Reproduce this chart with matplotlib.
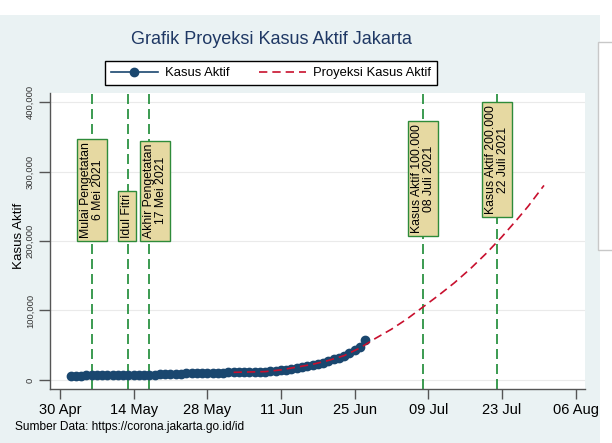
import pandas as pd
import matplotlib
matplotlib.use('Agg')
import matplotlib.pyplot as plt
import matplotlib.dates as mdates
from matplotlib.patches import Rectangle
from matplotlib.lines import Line2D

plt.rcParams['font.family'] = ['Liberation Sans', 'DejaVu Sans']

# observed active cases, daily from 2 May 2021
obs_start = '2021-05-02'
obs_values = [6200, 6300, 6400, 6500, 6600, 6700, 6700,
              6800, 6900, 7000, 7100, 7200, 7300, 7200,
              7300, 7500, 7700, 7900, 8200, 8500, 8800,
              9100, 9400, 9700, 10000, 10200, 10400, 10500,
              10600, 10700, 10800, 10900, 11000, 11100, 11200,
              11400, 11700, 12100, 12600, 13200, 14000, 15000,
              16100, 17300, 18600, 20000, 21500, 23200, 25100,
              27200, 29500, 32000, 35000, 38500, 42500, 47500,
              57000]

# projection
proj_dates = ['2021-06-02', '2021-06-05', '2021-06-08', '2021-06-11', '2021-06-14',
              '2021-06-17', '2021-06-20', '2021-06-23', '2021-06-26', '2021-06-29',
              '2021-07-02', '2021-07-05', '2021-07-08', '2021-07-11', '2021-07-14',
              '2021-07-17', '2021-07-20', '2021-07-23', '2021-07-26', '2021-07-28',
              '2021-07-31']
proj_values = [11000, 11500, 12000, 14500, 18500,
               22500, 28000, 35000, 46000, 60000,
               73000, 88000, 105000, 122000, 140000,
               160000, 182000, 206000, 232000, 250000,
               280000]

# event markers (line date, label position, text, bottom of box)
event_dates = ['2021-05-06', '2021-05-13', '2021-05-17', '2021-07-08', '2021-07-22']
label_dates = ['2021-05-06', '2021-05-12 18:00', '2021-05-18', '2021-07-08', '2021-07-22']
event_labels = ['Mulai Pengetatan\n6 Mei 2021', 'Idul Fitri',
                'Akhir Pengetatan\n17 Mei 2021',
                'Kasus Aktif 100.000\n08 Juli 2021',
                'Kasus Aktif 200.000\n22 Juli 2021']
label_base = [200000, 200000, 200000, 207000, 234000]

tick_dates = ['2021-04-30', '2021-05-14', '2021-05-28', '2021-06-11',
              '2021-06-25', '2021-07-09', '2021-07-23', '2021-08-06']
yticks = [0, 100000, 200000, 300000, 400000]

obs_dates = pd.date_range(obs_start, periods=len(obs_values), freq='D')

fig = plt.figure(figsize=(6.12, 4.43), dpi=100)
fig.patch.set_facecolor('white')
fig.patches.append(Rectangle((0, 0), 600 / 612, 428 / 443, transform=fig.transFigure,
                             facecolor='#EAF2F3', edgecolor='none', zorder=-10))
fig.patches.append(Rectangle((598 / 612, 193 / 443), 20 / 612, 208 / 443,
                             transform=fig.transFigure, facecolor='white',
                             edgecolor='#C8C8C8', lw=1, zorder=-5))

ax = fig.add_axes([50 / 612, 54 / 443, 535 / 612, 296 / 443])
ax.set_facecolor('white')

ax.set_yticks(yticks)
ax.yaxis.grid(True, color='#EAEAEA', lw=0.8)
ax.set_axisbelow(True)

for d in event_dates:
    ax.axvline(pd.Timestamp(d), color='#1A8A34', ls=(0, (6, 3)), lw=1.2, zorder=2)

ax.plot(obs_dates, obs_values, color='#1A476F', marker='o', ms=6, lw=1.2, zorder=3)
ax.plot(pd.to_datetime(proj_dates), proj_values, color='#C8102E', ls=(0, (5, 3)),
        lw=1.2, zorder=4)

for d, lab, yb in zip(label_dates, event_labels, label_base):
    ax.annotate(lab, xy=(pd.Timestamp(d), yb), xytext=(0, 3), textcoords='offset pixels',
                rotation=90, ha='center', va='bottom', ma='center',
                fontsize=8.8, linespacing=1.0, zorder=5,
                bbox=dict(boxstyle='square,pad=0.25', fc='#E6D9A2', ec='#2E8B3A', lw=1))

x0 = mdates.date2num(pd.Timestamp('2021-04-30')) - 1.9
x1 = mdates.date2num(pd.Timestamp('2021-04-30')) + 99.8
ax.set_xlim(x0, x1)
ax.set_ylim(-13000, 413000)

ax.set_xticks(pd.to_datetime(tick_dates))
ax.xaxis.set_major_formatter(mdates.DateFormatter('%d %b'))
ax.set_yticklabels(['{:,}'.format(v) for v in yticks], rotation=90, va='center')

for s in ['top', 'right']:
    ax.spines[s].set_visible(False)
for s in ['left', 'bottom']:
    ax.spines[s].set_color('#555555')
    ax.spines[s].set_linewidth(1.0)

ax.tick_params(axis='x', length=7, width=1, color='#555555', labelsize=10.5, pad=3)
ax.tick_params(axis='y', length=8, width=1, color='#555555', labelsize=6.8,
               pad=3, labelcolor='#333333')

fig.text(19 / 612, 1 - 236 / 443, 'Kasus Aktif', rotation=90, ha='center', va='center',
         fontsize=9.6)

fig.text(271.5 / 612, 1 - 40 / 443, 'Grafik Proyeksi Kasus Aktif Jakarta',
         ha='center', va='center', fontsize=13, color='#1F3864')

handles = [Line2D([], [], color='#1A476F', marker='o', ms=6, lw=1.2),
           Line2D([], [], color='#C8102E', ls=(0, (5, 3)), lw=1.2)]
leg = fig.legend(handles, ['Kasus Aktif', 'Proyeksi Kasus Aktif'], ncol=2,
                 loc='center', bbox_to_anchor=(271 / 612, 1 - 73 / 443),
                 frameon=True, fancybox=False, framealpha=1, edgecolor='black',
                 fontsize=9.4, handlelength=3.6, columnspacing=2.2,
                 borderpad=0.45, handletextpad=0.6)
leg.get_frame().set_linewidth(1.0)

fig.text(15 / 612, 1 - 427 / 443, 'Sumber Data: https://corona.jakarta.go.id/id',
         ha='left', va='center', fontsize=8.6)

fig.savefig('out.png', dpi=100)
